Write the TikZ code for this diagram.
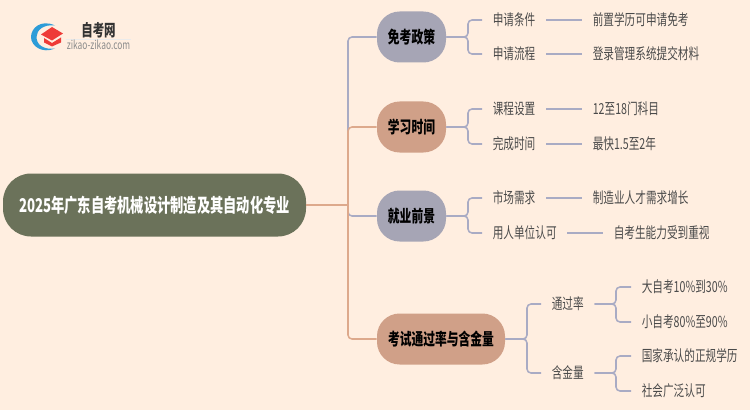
\documentclass[tikz,border=0pt]{standalone}
\usepackage{fontspec}
\usepackage{xcolor}
\setmainfont[FakeStretch=0.7]{Noto Sans CJK SC}
\definecolor{paper}{HTML}{FFEEE0}
\definecolor{rootgreen}{HTML}{6B725A}
\definecolor{slatebox}{HTML}{A6A5B5}
\definecolor{clay}{HTML}{D0A088}
\definecolor{slateline}{HTML}{A9ABC4}
\definecolor{clayline}{HTML}{DDA98C}
\definecolor{leafgray}{HTML}{4A4A4A}
\definecolor{logoblue}{HTML}{2D9CD8}
\definecolor{logored}{HTML}{EE3B37}
\tikzset{
    topic/.style={fill=#1, rounded corners=17pt, minimum height=51*0.75pt, inner sep=0pt, font=\fontsize{12.6}{13}\selectfont\bfseries, text=black},
    leaf/.style={anchor=west, inner xsep=7.9pt, inner ysep=0pt, font=\fontsize{11.4}{12}\selectfont, text=leafgray},
    twig/.style={slateline, line width=1.15pt, rounded corners=3pt},
    limb/.style={#1, line width=1.15pt, rounded corners=3pt}
}
\begin{document}
\begin{tikzpicture}[x=0.75pt, y=-0.75pt]
    \useasboundingbox (0, 0) rectangle (750, 410);
    \fill[paper] (0, 0) rectangle (750, 410);

    % logo
    \fill[logoblue] (55, 25.5) .. controls (41, 19) and (31, 28) .. (31, 37) .. controls (31, 46) and (42, 54) .. (55, 48.5) .. controls (44, 50) and (36.5, 45) .. (36.5, 37) .. controls (36.5, 30) and (44, 24) .. (55, 25.5) -- cycle;
    \fill[logored] (41, 34.5) -- (52, 27) -- (63, 33.5) -- (52, 40.5) -- cycle;
    \fill[logored] (44, 38) -- (52, 43) -- (61, 37.5) -- (61, 42.5) -- (52, 46.5) -- (44, 42.5) -- cycle;
    \draw[black!8, line width=0.6pt] (66, 39) -- (131, 39);
    \node[inner sep=0pt, text=black!80, font=\fontsize{12.3}{13}\selectfont\bfseries] (sitename) at (98.5, 30.5) {自考网};
    \node[inner sep=0pt, text=black!45, font=\fontsize{9}{10}\selectfont] (siteurl) at (98.5, 45) {zikao-zikao.com};

    % main boxes
    \node[fill=rootgreen, rounded corners=21pt, minimum width=303*0.75pt, minimum height=63*0.75pt, inner sep=0pt, text=white, font=\fontsize{14.2}{15}\selectfont\bfseries] (root) at (154.5, 205) {2025年广东自考机械设计制造及其自动化专业};
    \node[topic=slatebox, minimum width=69*0.75pt] (policy) at (411.5, 37) {免考政策};
    \node[topic=clay, minimum width=69*0.75pt] (studytime) at (411.5, 127) {学习时间};
    \node[topic=slatebox, minimum width=69*0.75pt] (career) at (411.5, 216) {就业前景};
    \node[topic=clay, minimum width=128*0.75pt] (passrate) at (441, 339) {考试通过率与含金量};

    \coordinate (trunk) at (348, 205);
    \draw[limb=slateline] (trunk) |- (policy.west);
    \draw[limb=clayline] (trunk) |- (studytime.west);
    \draw[limb=slateline] (trunk) |- (career.west);
    \draw[limb=clayline] (trunk) |- (passrate.west);
    \draw[limb=clayline] (root.east) -- (trunk);

    % first level
    \node[leaf] (apply) at (482, 20) {申请条件};
    \node[leaf] (applyflow) at (482, 54) {申请流程};
    \node[leaf] (course) at (482, 109) {课程设置};
    \node[leaf] (finish) at (482, 144) {完成时间};
    \node[leaf] (market) at (482, 198) {市场需求};
    \node[leaf] (employer) at (482, 233) {用人单位认可};
    \node[leaf] (rate) at (541, 304) {通过率};
    \node[leaf] (worth) at (541, 373) {含金量};

    \coordinate (policyfork) at (468, 37);
    \coordinate (studyfork) at (468, 127);
    \coordinate (careerfork) at (468, 216);
    \coordinate (passfork) at (527, 339);
    \draw[twig] (policy.east) -- (policyfork) |- (apply.west);
    \draw[twig] (policy.east) -- (policyfork) |- (applyflow.west);
    \draw[twig] (studytime.east) -- (studyfork) |- (course.west);
    \draw[twig] (studytime.east) -- (studyfork) |- (finish.west);
    \draw[twig] (career.east) -- (careerfork) |- (market.west);
    \draw[twig] (career.east) -- (careerfork) |- (employer.west);
    \draw[twig] (passrate.east) -- (passfork) |- (rate.west);
    \draw[twig] (passrate.east) -- (passfork) |- (worth.west);

    % second level
    \node[leaf] (applytext) at (582, 20) {前置学历可申请免考};
    \node[leaf] (flowtext) at (582, 54) {登录管理系统提交材料};
    \node[leaf] (coursetext) at (582, 109) {12至18门科目};
    \node[leaf] (finishtext) at (582, 144) {最快1.5至2年};
    \node[leaf] (markettext) at (582, 198) {制造业人才需求增长};
    \node[leaf] (employertext) at (603, 233) {自考生能力受到重视};
    \node[leaf] (bigrate) at (631, 287) {大自考10\%到30\%};
    \node[leaf] (smallrate) at (631, 322) {小自考80\%至90\%};
    \node[leaf] (official) at (631, 356) {国家承认的正规学历};
    \node[leaf] (social) at (631, 391) {社会广泛认可};

    \draw[twig] (apply.east) -- (applytext.west);
    \draw[twig] (applyflow.east) -- (flowtext.west);
    \draw[twig] (course.east) -- (coursetext.west);
    \draw[twig] (finish.east) -- (finishtext.west);
    \draw[twig] (market.east) -- (markettext.west);
    \draw[twig] (employer.east) -- (employertext.west);

    \coordinate (ratefork) at (616, 304);
    \coordinate (worthfork) at (616, 373);
    \draw[twig] (rate.east) -- (ratefork) |- (bigrate.west);
    \draw[twig] (rate.east) -- (ratefork) |- (smallrate.west);
    \draw[twig] (worth.east) -- (worthfork) |- (official.west);
    \draw[twig] (worth.east) -- (worthfork) |- (social.west);
\end{tikzpicture}
\end{document}
